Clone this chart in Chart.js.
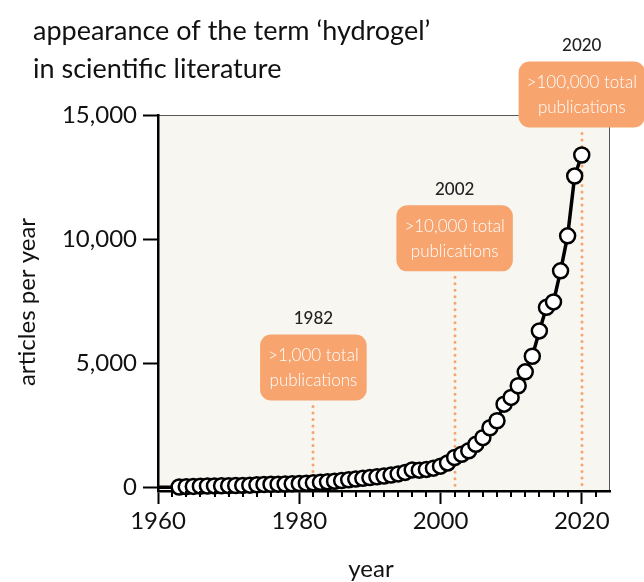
<!DOCTYPE html>
<html>
<head>
<meta charset="utf-8">
<script src="https://cdn.jsdelivr.net/npm/chart.js@4"></script>
<style>
  html, body { margin: 0; padding: 0; background: #ffffff; }
</style>
</head>
<body>
<canvas id="hydrogelChart" width="644" height="582"></canvas>
<script>
// articles per year mentioning 'hydrogel'
const years = [1960, 1961, 1962, 1963, 1964, 1965, 1966, 1967, 1968, 1969,
  1970, 1971, 1972, 1973, 1974, 1975, 1976, 1977, 1978, 1979,
  1980, 1981, 1982, 1983, 1984, 1985, 1986, 1987, 1988, 1989,
  1990, 1991, 1992, 1993, 1994, 1995, 1996, 1997, 1998, 1999,
  2000, 2001, 2002, 2003, 2004, 2005, 2006, 2007, 2008, 2009,
  2010, 2011, 2012, 2013, 2014, 2015, 2016, 2017, 2018, 2019, 2020];
const articles = [0, 0, 0, 10, 25, 35, 45, 50, 55, 60,
  65, 70, 75, 85, 100, 115, 120, 125, 130, 140,
  150, 165, 180, 200, 220, 245, 270, 300, 330, 360,
  390, 420, 450, 490, 540, 600, 700, 690, 720, 770,
  850, 980, 1200, 1330, 1470, 1730, 2000, 2400, 2680, 3350,
  3620, 4090, 4650, 5280, 6300, 7250, 7470, 8720, 10130, 12540, 13390];
const first_marker_year = 1963;

const milestone_years = [1982, 2002, 2020];
const milestone_labels = [
  [">1,000 total", "publications"],
  [">10,000 total", "publications"],
  [">100,000 total", "publications"]
];

const x_tick_values = [1960, 1980, 2000, 2020];
const y_tick_values = [0, 5000, 10000, 15000];

const title_lines = ["appearance of the term \u2018hydrogel\u2019", "in scientific literature"];
const font_name = "Lato";
const orange = "#f7a46f";

Chart.defaults.font.family = font_name;
Chart.defaults.color = "#111111";

// box bottoms (in article units) for each milestone, same order as milestone_years
const box_bottoms = [3500, 8700, 14500];

const decor_plugin = {
  id: "decor",
  beforeDraw(chart) {
    const ctx = chart.ctx;
    const a = chart.chartArea;
    ctx.save();
    ctx.fillStyle = "#f7f6f1";
    ctx.fillRect(a.left, a.top, a.right - a.left, a.bottom - a.top);
    ctx.strokeStyle = "#555555";
    ctx.lineWidth = 1;
    ctx.beginPath();
    ctx.moveTo(a.left, a.top + 0.5);
    ctx.lineTo(a.right - 0.5, a.top + 0.5);
    ctx.lineTo(a.right - 0.5, a.bottom);
    ctx.stroke();
    ctx.restore();
  },
  beforeDatasetsDraw(chart) {
    const ctx = chart.ctx;
    const xs = chart.scales.x;
    const ys = chart.scales.y;
    ctx.save();
    ctx.strokeStyle = orange;
    ctx.lineWidth = 3;
    ctx.lineCap = "round";
    ctx.setLineDash([0, 6.5]);
    for (let i = 0; i < milestone_years.length; i++) {
      const px = Math.round(xs.getPixelForValue(milestone_years[i]));
      ctx.beginPath();
      ctx.moveTo(px, ys.getPixelForValue(box_bottoms[i]) + 6);
      ctx.lineTo(px, chart.chartArea.bottom - 2);
      ctx.stroke();
    }
    ctx.restore();
  },
  afterDraw(chart) {
    const ctx = chart.ctx;
    const xs = chart.scales.x;
    const ys = chart.scales.y;
    const a = chart.chartArea;
    ctx.save();

    // minor ticks every 2 years
    ctx.strokeStyle = "#000000";
    ctx.lineWidth = 2;
    for (let yr = 1962; yr < 2024; yr += 2) {
      if (yr % 20 == 0) continue;
      const px = Math.round(xs.getPixelForValue(yr));
      ctx.beginPath();
      ctx.moveTo(px, a.bottom);
      ctx.lineTo(px, a.bottom + 6);
      ctx.stroke();
    }

    // milestone boxes
    for (let i = 0; i < milestone_years.length; i++) {
      const px = xs.getPixelForValue(milestone_years[i]);
      const bottom = ys.getPixelForValue(box_bottoms[i]);
      const h = 66;
      ctx.font = "300 17px " + font_name;
      let w = 0;
      milestone_labels[i].forEach(function (t) { w = Math.max(w, ctx.measureText(t).width); });
      w += 16;
      ctx.fillStyle = orange;
      ctx.beginPath();
      ctx.roundRect(px - w / 2, bottom - h, w, h, 11);
      ctx.fill();
      ctx.fillStyle = "#ffffff";
      ctx.textAlign = "center";
      ctx.textBaseline = "middle";
      ctx.fillText(milestone_labels[i][0], px, bottom - 45);
      ctx.fillText(milestone_labels[i][1], px, bottom - 20);
      ctx.fillStyle = "#222222";
      ctx.font = "500 17px " + font_name;
      ctx.fillText(String(milestone_years[i]), px, bottom - h - 16);
    }

    // title
    ctx.fillStyle = "#111111";
    ctx.textAlign = "left";
    ctx.textBaseline = "middle";
    ctx.font = "400 27px " + font_name;
    ctx.fillText(title_lines[0], 33, 31);
    ctx.fillText(title_lines[1], 33, 69);

    // axis titles
    ctx.font = "400 24px " + font_name;
    ctx.textAlign = "center";
    ctx.fillText("year", 371, 569);
    ctx.translate(27, 302);
    ctx.rotate(-Math.PI / 2);
    ctx.fillText("articles per year", 0, 0);
    ctx.restore();
  }
};

const points = years.map(function (yr, i) { return { x: yr, y: articles[i] }; });

const hydrogel_chart = new Chart("hydrogelChart", {
  type: "line",
  data: {
    datasets: [
      {
        label: "articles per year",
        data: points,
        borderColor: "#000000",
        borderWidth: 3.5,
        tension: 0,
        pointBackgroundColor: "#ffffff",
        pointBorderColor: "#000000",
        pointBorderWidth: 2.5,
        pointRadius: function (c) { return c.raw && c.raw.x < first_marker_year ? 0 : 7.5; },
        clip: false,
      },
    ],
  },
  options: {
    responsive: false,
    animation: false,
    layout: { padding: { top: 115, right: 34, left: 0, bottom: 0 } },
    plugins: {
      legend: { display: false },
      tooltip: { enabled: false },
    },
    scales: {
      x: {
        type: "linear",
        min: 1960,
        max: 2024,
        afterBuildTicks: function (scale) {
          scale.ticks = x_tick_values.map(function (v) { return { value: v }; });
        },
        afterFit: function (scale) { scale.height = 91; },
        ticks: {
          padding: 3,
          font: { size: 24 },
          color: "#111111",
          maxRotation: 0,
          callback: function (v) { return String(v); },
        },
        grid: {
          drawOnChartArea: false,
          tickLength: 13,
          tickWidth: 2,
          tickColor: "#000000",
        },
        border: { color: "#000000", width: 2.5 },
      },
      y: {
        min: -150,
        max: 15000,
        afterBuildTicks: function (scale) {
          scale.ticks = y_tick_values.map(function (v) { return { value: v }; });
        },
        afterFit: function (scale) { scale.width = 158; },
        ticks: {
          padding: 6,
          font: { size: 24 },
          color: "#111111",
          callback: function (v) { return v.toLocaleString("en-US"); },
        },
        grid: {
          drawOnChartArea: false,
          tickLength: 15,
          tickWidth: 2,
          tickColor: "#000000",
        },
        border: { color: "#000000", width: 2.5 },
      },
    },
  },
  plugins: [decor_plugin],
});
</script>
</body>
</html>
